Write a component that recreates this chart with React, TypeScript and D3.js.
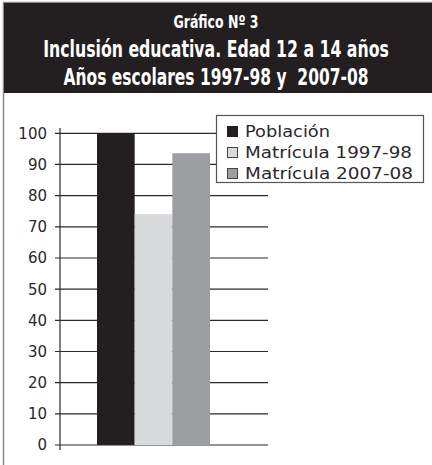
import React, { useEffect, useRef } from 'react';
import * as d3 from 'd3';

// data
const seriesNames = ['Población', 'Matrícula 1997-98', 'Matrícula 2007-08'];
const seriesValues = [100, 74.1, 93.6];
const seriesColors = ['#231f20', '#d9dadc', '#9d9ea1'];
const yTicks = [0, 10, 20, 30, 40, 50, 60, 70, 80, 90, 100];
const titleLines = [
    'Gráfico Nº 3',
    'Inclusión educativa. Edad 12 a 14 años',
    'Años escolares 1997-98 y  2007-08',
];

const width = 432;
const height = 465;

export default function App() {
    const ref = useRef<SVGSVGElement | null>(null);

    useEffect(() => {
        const svg = d3.select(ref.current);
        svg.selectAll('*').remove();

        svg.append('rect')
            .attr('width', width)
            .attr('height', height)
            .attr('fill', '#fff');

        // frame + header
        svg.append('path')
            .attr('d', `M3.5,${height} V2.5 H${width}`)
            .attr('fill', 'none')
            .attr('stroke', '#8a8a8a')
            .attr('stroke-width', 1.5);
        svg.append('rect')
            .attr('x', 4)
            .attr('y', 3)
            .attr('width', width - 4)
            .attr('height', 90)
            .attr('fill', '#231f20');

        const titleFont = '"DejaVu Sans", sans-serif';
        const titleSpec = [
            { y: 28, size: 17, len: 85 },
            { y: 57, size: 23, len: 346 },
            { y: 85, size: 23, len: 305 },
        ];
        titleLines.forEach((t, i) => {
            const txt = svg.append('text')
                .attr('x', 0)
                .attr('y', 0)
                .attr('text-anchor', 'middle')
                .attr('fill', '#fff')
                .attr('font-family', titleFont)
                .attr('font-weight', 'bold')
                .attr('font-size', titleSpec[i].size)
                .style('white-space', 'pre')
                .text(t);
            const natural = (txt.node() as SVGTextElement).getComputedTextLength();
            const sx = titleSpec[i].len / natural;
            txt.attr('transform', `translate(216,${titleSpec[i].y}) scale(${sx},1)`);
        });

        // scales
        const y = d3.scaleLinear().domain([0, 100]).range([445, 133.3]);
        const x = d3.scaleBand().domain(seriesNames).range([97, 210]).padding(0);
        const axisX = 60;
        const gridEnd = 268;
        const font = '"DejaVu Sans", sans-serif';

        // gridlines
        svg.append('g')
            .selectAll('line')
            .data(yTicks)
            .join('line')
            .attr('x1', axisX - 5)
            .attr('x2', gridEnd)
            .attr('y1', (d) => y(d))
            .attr('y2', (d) => y(d))
            .attr('stroke', '#2a2a2a')
            .attr('stroke-width', 1.2);

        svg.append('line')
            .attr('x1', axisX)
            .attr('x2', axisX)
            .attr('y1', 128)
            .attr('y2', 450)
            .attr('stroke', '#2a2a2a')
            .attr('stroke-width', 1.2);

        svg.append('g')
            .selectAll('text')
            .data(yTicks)
            .join('text')
            .attr('x', 47)
            .attr('y', (d) => y(d))
            .attr('dy', '0.36em')
            .attr('text-anchor', 'end')
            .attr('font-family', font)
            .attr('font-size', 15)
            .attr('fill', '#2b2829')
            .text((d) => d);

        // bars
        svg.append('g')
            .selectAll('rect')
            .data(seriesValues)
            .join('rect')
            .attr('x', (d, i) => x(seriesNames[i])!)
            .attr('width', x.bandwidth())
            .attr('y', (d) => y(d))
            .attr('height', (d) => y(0) - y(d))
            .attr('fill', (d, i) => seriesColors[i]);

        // legend
        const legend = svg.append('g');
        legend.append('rect')
            .attr('x', 216.5)
            .attr('y', 115.5)
            .attr('width', 207)
            .attr('height', 67)
            .attr('fill', '#fff')
            .attr('stroke', '#555')
            .attr('stroke-width', 1.2);

        const textLens = [85, 167, 168];
        seriesNames.forEach((name, i) => {
            const base = 137 + i * 21;
            legend.append('rect')
                .attr('x', 227.5)
                .attr('y', base - 10.5)
                .attr('width', 10)
                .attr('height', 10)
                .attr('fill', seriesColors[i])
                .attr('stroke', i === 0 ? seriesColors[i] : '#444')
                .attr('stroke-width', 1);
            legend.append('text')
                .attr('x', 245)
                .attr('y', base)
                .attr('font-family', font)
                .attr('font-size', 15)
                .attr('fill', '#2b2829')
                .attr('textLength', textLens[i])
                .attr('lengthAdjust', 'spacingAndGlyphs')
                .text(name);
        });
    }, []);

    return (
        <svg
            ref={ref}
            width={width}
            height={height}
            style={{ position: 'absolute', left: 0, top: 0, display: 'block' }}
        />
    );
}
